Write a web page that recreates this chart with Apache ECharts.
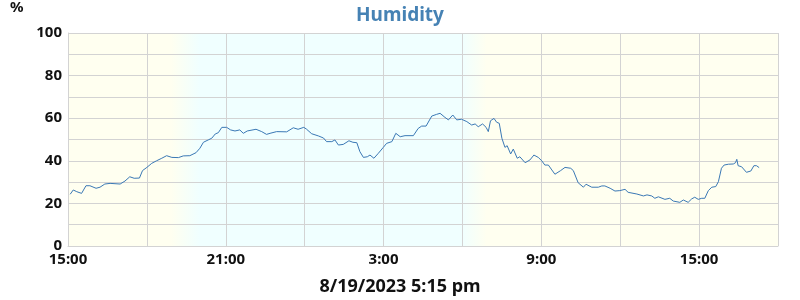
<!DOCTYPE html>
<html>
<head>
<meta charset="utf-8">
<script src="https://cdn.jsdelivr.net/npm/echarts@6/dist/echarts.min.js"></script>
<style>
html,body{margin:0;padding:0;background:#fff;}
#chart{width:800px;height:300px;}
</style>
</head>
<body>
<div id="chart"></div>
<script>
// Minutes since 8/18/2023 15:00 and relative humidity (%)
var minutes = [5,12,20,31,41,50,64,73,84,96,119,130,141,151,163,170,180,191,202,214,225,237,252,263,278,292,301,309,320,328,336,343,351,362,371,381,392,400,409,429,442,453,461,476,499,514,525,538,544,556,571,583,590,602,609,617,628,641,650,659,666,674,683,689,698,708,719,727,739,748,758,769,788,799,807,817,830,841,849,860,868,878,887,898,910,921,929,936,946,954,959,964,972,978,984,990,997,1002,1010,1016,1025,1031,1043,1054,1063,1073,1081,1088,1096,1104,1111,1124,1134,1147,1153,1164,1176,1182,1195,1210,1218,1225,1237,1248,1259,1271,1278,1298,1313,1321,1332,1339,1347,1362,1373,1381,1396,1404,1415,1423,1430,1438,1446,1453,1461,1469,1478,1484,1491,1497,1507,1518,1523,1526,1529,1537,1548,1558,1565,1571,1577];
var humidity = [24.3,26.3,25.5,24.7,28.3,28.3,27.1,27.6,29.1,29.4,29.1,30.5,32.5,31.8,31.9,35.4,36.9,38.8,40.0,41.2,42.4,41.6,41.5,42.3,42.4,43.8,45.9,48.7,49.8,50.6,52.6,53.2,55.7,55.7,54.5,54.0,54.5,52.9,54.0,54.8,53.7,52.4,52.9,53.7,53.6,55.5,54.8,55.7,54.9,52.7,51.7,50.7,49.0,49.0,49.8,47.4,47.7,49.4,48.7,48.5,44.3,41.6,41.9,42.7,41.2,43.5,46.2,48.2,49.0,52.9,51.3,51.8,51.8,55.2,56.3,56.3,61.0,61.8,62.3,60.4,59.2,61.5,59.2,59.5,58.4,56.8,57.3,56.0,57.3,55.7,53.7,58.8,59.9,58.1,57.6,50.6,46.3,47.1,43.2,45.5,41.2,41.9,39.1,40.4,42.7,41.6,40.0,38.0,38.0,35.7,33.7,35.4,36.9,36.5,35.4,29.7,27.6,29.0,27.6,27.6,28.2,28.2,27.1,25.8,26.0,26.6,25.2,24.4,23.5,24.0,23.5,22.4,23.1,21.9,22.4,21.1,20.5,21.6,20.5,22.1,22.9,21.9,22.4,22.4,26.0,27.6,27.9,30.2,36.5,38.0,38.4,38.5,39.1,40.7,37.7,37.2,34.6,35.2,37.7,37.7,36.8];
var startHour = 15;          // x axis starts at 15:00
var spanMinutes = 1620;      // 27 hours shown
var duskStart = 235, duskEnd = 300;     // evening fade (minutes)
var dawnStart = 898, dawnEnd = 955;     // morning fade (minutes)
var titleText = 'Humidity';
var unitText = '%';
var stampText = '8/19/2023 5:15 pm';

var dayColor = '#FFFFF0', nightColor = '#F0FFFF';
var seriesData = minutes.map(function (m, i) { return [m, humidity[i]]; });

var chart = echarts.init(document.getElementById('chart'), null, {renderer: 'canvas'});
var font = '"Noto Sans", "Open Sans", sans-serif';
chart.setOption({
  animation: false,
  title: {
    text: titleText, left: 'center', top: 1,
    textStyle: {color: '#4682B4', fontSize: 19, fontWeight: 'bold', fontFamily: font}
  },
  graphic: [
    {type: 'text', left: 10, top: 0, style: {text: unitText, font: 'bold 15px ' + font, fill: '#111'}},
    {type: 'text', left: 'center', top: 278, style: {text: stampText, font: 'bold 18px ' + font, fill: '#111'}}
  ],
  grid: {
    left: 68, right: 22, top: 33, bottom: 54, show: true, borderWidth: 0,
    backgroundColor: new echarts.graphic.LinearGradient(0, 0, 1, 0, [
      {offset: 0, color: dayColor},
      {offset: duskStart / spanMinutes, color: dayColor},
      {offset: duskEnd / spanMinutes, color: nightColor},
      {offset: dawnStart / spanMinutes, color: nightColor},
      {offset: dawnEnd / spanMinutes, color: dayColor},
      {offset: 1, color: dayColor}
    ])
  },
  xAxis: {
    type: 'value', min: 0, max: spanMinutes, interval: 180,
    axisLine: {show: true, lineStyle: {color: '#d3d3d3'}},
    axisTick: {show: false},
    splitLine: {show: true, lineStyle: {color: '#d3d3d3', width: 1}},
    axisLabel: {
      margin: 6, color: '#111', fontSize: 15, fontWeight: 'bold', fontFamily: font,
      formatter: function (v) {
        if (v % 360 !== 0 || v >= spanMinutes) return '';
        return ((startHour + v / 60) % 24) + ':00';
      }
    }
  },
  yAxis: {
    type: 'value', min: 0, max: 100, interval: 10,
    axisLine: {show: true, lineStyle: {color: '#d3d3d3'}},
    axisTick: {show: false},
    splitLine: {show: true, lineStyle: {color: '#d3d3d3', width: 1}},
    axisLabel: {
      margin: 6, color: '#111', fontSize: 15, fontWeight: 'bold', fontFamily: font,
      formatter: function (v) { return v % 20 === 0 ? String(v) : ''; }
    }
  },
  series: [{
    type: 'line', data: seriesData, showSymbol: false, symbol: 'none',
    lineStyle: {color: '#3a78b5', width: 1}, silent: true
  }]
});
</script>
</body>
</html>
